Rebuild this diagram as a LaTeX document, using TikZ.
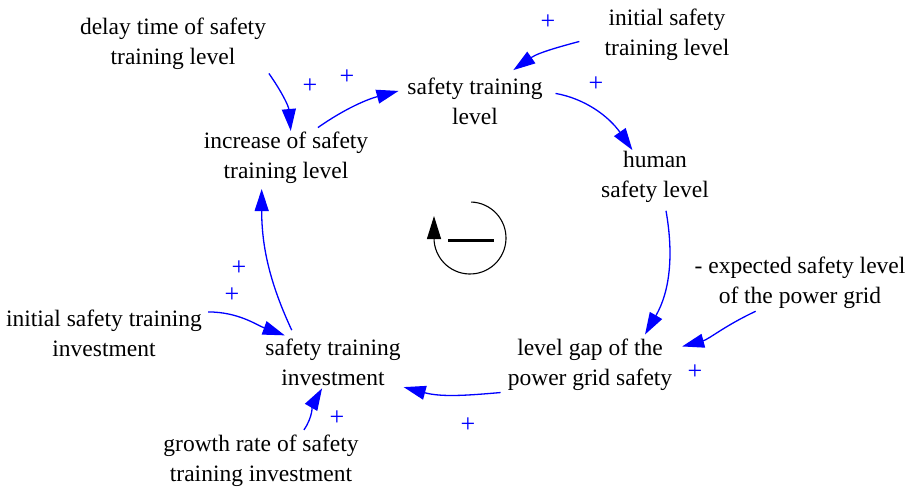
\documentclass[tikz,border=0pt]{standalone}
\usepackage{fontspec}
\setmainfont{Liberation Serif}
\newfontfamily\varfont{Liberation Serif}
\usetikzlibrary{arrows.meta}

\begin{document}
\begin{tikzpicture}[x=1pt,y=1pt,
  var/.style={align=center,inner sep=1pt,font=\varfont\fontsize{23.5}{30}\selectfont},
  link/.style={draw=blue,line width=1.3pt,-{Triangle[length=22pt,width=14pt]}},
  pol/.style={text=blue,inner sep=0pt,font=\varfont\fontsize{26}{26}\selectfont}]
\useasboundingbox (0,0) rectangle (907,-489);
\node[var] (delay)      at (173,-44)  {delay time of safety\\training level};
\node[var] (initlevel)  at (667,-35)  {initial safety\\training level};
\node[var] (level)      at (475,-101) {safety training\\level};
\node[var] (increase)   at (286,-158) {increase of safety\\training level};
\node[var] (human)      at (655,-177) {human\\safety level};
\node[var] (expected)   at (800,-283) {- expected safety level\\of the power grid};
\node[var] (gap)        at (590,-365) {level gap of the\\power grid safety};
\node[var] (invest)     at (333,-362) {safety training\\investment};
\node[var] (initinvest) at (104,-333) {initial safety training\\investment};
\node[var] (growth)     at (261,-461) {growth rate of safety\\training investment};
%% polarities
\node[pol] (p-delay)      at (310,-86)  {+};
\node[pol] (p-increase)   at (347,-77)  {+};
\node[pol] (p-initlevel)  at (548,-22)  {+};
\node[pol] (p-level)      at (596,-84)  {+};
\node[pol] (p-expected)   at (695,-372) {+};
\node[pol] (p-gap)        at (468,-425) {+};
\node[pol] (p-initinvest) at (232,-295) {+};
\node[pol] (p-invest)     at (239,-268) {+};
\node[pol] (p-growth)     at (337,-418) {+};
\path
	(delay.south east) edge[link,out=-55,in=95,shorten <=3pt]                (increase.80)
	(increase.45)      edge[link,out=35,in=195,shorten <=6pt,shorten >=8pt]  (level.170)
	(initlevel.west)   edge[link,out=195,in=35,shorten <=25pt,shorten >=11pt] (level.40)
	(level.8)          edge[link,out=-10,in=125,shorten <=12pt]              (human.130)
	(human.-70)        edge[link,out=-80,in=60,shorten <=7pt,shorten >=4pt]  (gap.27)
	(expected.-147)    edge[link,out=205,in=15,shorten <=3pt,shorten >=9pt]  (gap.11)
	(gap.south west)   edge[link,out=185,in=-15,shorten <=6pt,shorten >=2pt] (invest.south east)
	(initinvest.12)    edge[link,out=0,in=160,shorten <=5pt,shorten >=6pt]   (invest.150)
	(invest.147)       edge[link,out=115,in=-90,shorten <=8pt,shorten >=4pt] (increase.-132)
	(growth.34)        edge[link,out=55,in=-120,shorten <=5pt,shorten >=2pt] (invest.-112)
; %-path-%
%% loop sign
\draw[line width=1.1pt,-{Triangle[length=23pt,width=14pt]}]
	([shift={(88:36)}]470,-238) arc[start angle=88,end angle=-180,radius=36] -- ++(0,22);
\draw[line width=3pt] (448,-240) -- (494,-240);
\end{tikzpicture}
\end{document}
